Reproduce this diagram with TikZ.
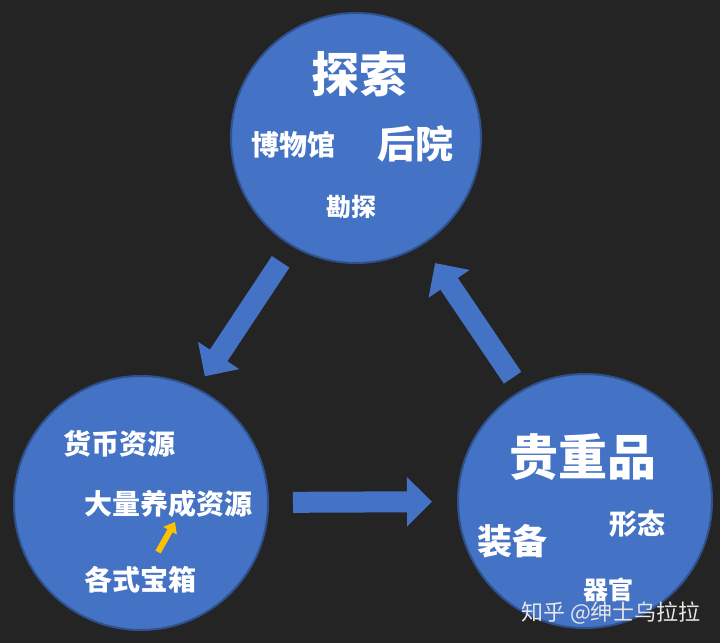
\documentclass[tikz,border=0pt]{standalone}
\usepackage{fontspec}
\newfontfamily\cjk{Noto Sans CJK SC}
\usetikzlibrary{arrows.meta}
\definecolor{gmBack}{HTML}{242424}
\definecolor{gmBlue}{HTML}{4472C4}
\definecolor{gmEdge}{HTML}{2F528F}
\definecolor{gmGold}{HTML}{FFC000}
\definecolor{gmMark}{HTML}{E6E6E6}
\tikzset{
  gm hub/.style={circle, draw=gmEdge, fill=gmBlue, line width=2pt, inner sep=0pt, minimum size=254pt},
  gm flow/.style={draw=gmBlue, line width=21pt, -{Triangle[length=25pt, width=48pt]}},
  gm boost/.style={draw=gmGold, line width=6pt, -{Triangle[length=10pt, width=15pt]}},
  gm word/.style={font=\cjk\bfseries, text=white, inner sep=0pt},
  gm mark/.style={font=\cjk, text=gmMark, inner sep=0pt},
}
\begin{document}
\begin{tikzpicture}[x=1pt,y=-1pt]
  \fill[gmBack] (0,0) rectangle (720,643);
  \useasboundingbox (0,0) rectangle (720,643);
  % three hubs
  \node[gm hub, minimum size=250pt] (explore) at (356,138) {};
  \node[gm hub] (supply) at (141,503) {};
  \node[gm hub] (treasure) at (585,501) {};
  % loop arrows
  \draw[gm flow, shorten <=19pt, shorten >=14pt] (explore.239) -- (supply.64);
  \draw[gm flow, shorten <=24pt, shorten >=25pt] (supply) -- (treasure);
  \draw[gm flow, shorten <=15pt, shorten >=22pt] (treasure.120) -- (explore.302);
  % top hub
  \node[gm word, font=\cjk\bfseries\fontsize{48}{48}\selectfont] (tansuo) at (359,74) {探索};
  \node[gm word, font=\cjk\bfseries\fontsize{28}{28}\selectfont] (museum) at (293,145) {博物馆};
  \node[gm word, font=\cjk\bfseries\fontsize{38}{38}\selectfont] (yard) at (415,144) {后院};
  \node[gm word, font=\cjk\bfseries\fontsize{25}{25}\selectfont] (survey) at (351,207) {勘探};
  % left hub
  \node[gm word, font=\cjk\bfseries\fontsize{28}{28}\selectfont] (coin) at (119,444) {货币资源};
  \node[gm word, font=\cjk\bfseries\fontsize{28}{28}\selectfont] (growth) at (168,504) {大量养成资源};
  \node[gm word, font=\cjk\bfseries\fontsize{28}{28}\selectfont] (chest) at (140,580) {各式宝箱};
  \coordinate (boostfoot) at (158,552);
  \coordinate (boosttip) at (175,522);
  \draw[gm boost] (boostfoot) -- (boosttip);
  % right hub
  \node[gm word, font=\cjk\bfseries\fontsize{49}{49}\selectfont] (rare) at (583,457) {贵重品};
  \node[gm word, font=\cjk\bfseries\fontsize{28}{28}\selectfont] (form) at (637,524) {形态};
  \node[gm word, font=\cjk\bfseries\fontsize{35}{35}\selectfont] (gear) at (512,541) {装备};
  \node[gm word, font=\cjk\bfseries\fontsize{25}{25}\selectfont] (organ) at (608,590) {器官};
  % watermark
  \node[gm mark, font=\cjk\fontsize{22}{22}\selectfont] (credit) at (611,613) {知乎 @绅士乌拉拉};
\end{tikzpicture}
\end{document}
